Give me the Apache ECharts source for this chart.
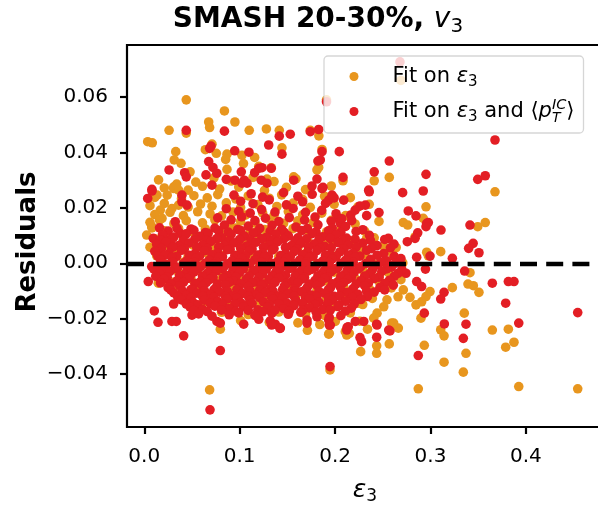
<!DOCTYPE html>
<html>
<head>
<meta charset="utf-8">
<script src="https://cdn.jsdelivr.net/npm/echarts@6/dist/echarts.min.js"></script>
<style>
  html, body { margin: 0; padding: 0; background: #fff; }
  #chart { width: 598px; height: 507px; }
</style>
</head>
<body>
<div id="chart"></div>
<script>
// Axis ticks
const xTickValues = [0, 0.1, 0.2, 0.3, 0.4];
const xTickLabels = ['0.0', '0.1', '0.2', '0.3', '0.4'];
const yTickValues = [-0.04, -0.02, 0, 0.02, 0.04, 0.06];
const yTickLabels = ['\u22120.04', '\u22120.02', '0.00', '0.02', '0.04', '0.06'];

const seriesNames = ['Fit on eps3', 'Fit on eps3 and pT'];

// Residuals of the fit on eps3 only: [eps3, residual]
const fitEpsPoints = [
  [0.044,0.059],[0.084,0.055],[0.095,0.051],[0.0675,0.051],[0.0685,0.049],[0.026,0.048],[0.044,0.047],
  [0.110,0.048],[0.128,0.0485],[0.1415,0.048],[0.174,0.048],[0.183,0.046],[0.0036,0.0439],[0.0084,0.0435],
  [0.033,0.0403],[0.064,0.041],[0.071,0.043],[0.0755,0.0397],[0.0867,0.0394],[0.0853,0.0375],[0.1024,0.039],
  [0.104,0.036],[0.1157,0.0382],[0.120,0.035],[0.0314,0.0373],[0.0385,0.0361],[0.048,0.033],[0.0867,0.0339],
  [0.031,0.0276],[0.034,0.0286],[0.191,0.059],[0.269,0.066],[0.1443,0.0417],[0.1863,0.0411],[0.241,0.0298],
  [0.2568,0.031],[0.181,0.0337],[0.1828,0.0346],[0.2083,0.0298],[0.1566,0.0312],[0.1331,0.0345],[0.1286,0.0304],
  [0.3676,0.0258],[0.2358,0.0213],[0.2953,0.0204],[0.2715,0.0147],[0.2761,0.0138],[0.2924,0.0162],[0.3495,0.0132],
  [0.3574,0.0147],[0.2838,0.0095],[0.3107,0.0042],[0.296,0.004],[0.2977,0.0027],[0.3414,-0.0034],[0.3393,-0.0075],
  [0.3449,-0.0081],[0.3508,-0.0105],[0.3229,-0.0088],[0.2995,-0.0102],[0.2953,-0.012],[0.3354,-0.018],[0.3372,-0.0325],
  [0.3344,-0.0393],[0.3648,-0.0241],[0.3816,-0.0238],[0.3875,-0.0285],[0.3788,-0.0303],[0.3925,-0.0445],[0.4543,-0.0453],
  [0.29,-0.0198],[0.3107,-0.024],[0.3142,-0.0262],[0.2935,-0.0296],[0.3142,-0.0357],[0.2872,-0.0453],[0.2848,-0.015],
  [0.2785,-0.0123],[0.2907,-0.0139],[0.2268,-0.0319],[0.2436,-0.0325],[0.2436,-0.0298],[0.2568,-0.0291],[0.2663,-0.0234],
  [0.2593,-0.0216],[0.1947,-0.0385],[0.1933,-0.0256],[0.2107,-0.0247],[0.2149,-0.0253],[0.2002,-0.021],[0.0685,-0.0457],
  [0.0797,-0.0238],[0.0413,-0.013],[0.0078,0.0132],[0.0025,0.0102],[0.0147,-0.0072],[0.1939,-0.0253],[0.2122,-0.0259],
  [0.0133,0.0246],[0.0168,0.0192],[0.0186,0.0162],[0.0081,0.0128],[0.029,0.0198],[0.036,0.021],[0.0308,0.027],
  [0.036,0.0264],[0.2331,0.009],[0.2593,0.004],[0.2463,-0.0048],[0.2715,-0.0096],[0.2405,-0.0198],[0.244,-0.018],
  [0.2247,-0.0144],[0.2544,-0.0132],[0.2614,-0.0216],
  [0.015,0.0301],[0.054,0.0293],[0.073,0.0308],[0.091,0.0297],[0.114,0.031],[0.136,0.0295],[0.159,0.0305],
  [0.021,0.0272],[0.046,0.0264],[0.061,0.0278],[0.079,0.0268],[0.099,0.0275],[0.126,0.0263],[0.149,0.0274],[0.169,0.0266],[0.196,0.0279],
  [0.011,0.0238],[0.024,0.0246],[0.039,0.0233],[0.052,0.0244],[0.066,0.0236],[0.077,0.0248],[0.096,0.0232],[0.109,0.0243],
  [0.131,0.0235],[0.144,0.0247],[0.166,0.0231],[0.189,0.0242],[0.216,0.0237],
  [0.006,0.0208],[0.021,0.0216],[0.046,0.0203],[0.059,0.0214],[0.071,0.0206],[0.086,0.0218],[0.101,0.0201],[0.119,0.0212],
  [0.139,0.0205],[0.156,0.0217],[0.174,0.0202],[0.199,0.0213],[0.224,0.0204],
  [0.011,0.0176],[0.027,0.0184],[0.041,0.0172],[0.056,0.0186],[0.069,0.0178],[0.081,0.0171],[0.093,0.0185],[0.106,0.0174],
  [0.124,0.0182],[0.136,0.0173],[0.151,0.0187],[0.166,0.0175],[0.186,0.0181],[0.211,0.0172],
  [0.006,0.0148],[0.016,0.0156],[0.031,0.0143],[0.044,0.0154],[0.061,0.0146],[0.074,0.0157],[0.089,0.0141],[0.101,0.0152],
  [0.116,0.0145],[0.131,0.0158],[0.146,0.0144],[0.161,0.0153],[0.177,0.0147],[0.196,0.0155],[0.221,0.0142],[0.246,0.0151],
  [0.021,0.0117],[0.036,0.0126],[0.051,0.0113],[0.064,0.0124],[0.079,0.0116],[0.096,0.0127],[0.111,0.0114],[0.126,0.0122],
  [0.141,0.0111],[0.156,0.0125],[0.171,0.0118],[0.191,0.0113],[0.206,0.0123],[0.231,0.0116],
  [0.011,0.0088],[0.026,0.0095],[0.041,0.0083],[0.061,0.0094],[0.076,0.0086],[0.089,0.0097],[0.104,0.0082],[0.121,0.0091],
  [0.136,0.0085],[0.149,0.0096],[0.171,0.0084],[0.186,0.0093],[0.199,0.0087],[0.216,0.0081],[0.241,0.0092],
  [0.006,0.0058],[0.021,0.0064],[0.036,0.0055],[0.051,0.0066],[0.071,0.0057],[0.086,0.0063],[0.101,0.0054],[0.129,0.0065],
  [0.161,0.0056],[0.191,0.0067],[0.226,0.0053],[0.251,0.0062],[0.264,0.0057],
  [0.013,0.0027],[0.031,0.0034],[0.046,0.0025],[0.066,0.0036],[0.081,0.0028],[0.111,0.0033],[0.141,0.0024],[0.169,0.0035],
  [0.201,0.0026],[0.231,0.0032],[0.261,0.0028],
  [0.021,-0.0003],[0.041,0.0004],[0.061,-0.0006],[0.091,0.0002],[0.121,-0.0004],[0.151,0.0005],[0.181,-0.0002],[0.211,0.0003],
  [0.241,-0.0005],[0.271,0.0001],
  [0.019,-0.0028],[0.036,-0.0034],[0.056,-0.0026],[0.081,-0.0033],[0.111,-0.0027],[0.139,-0.0035],[0.171,-0.0029],[0.199,-0.0032],
  [0.229,-0.0025],[0.256,-0.0034],
  [0.026,-0.0064],[0.049,-0.0056],[0.076,-0.0062],[0.101,-0.0058],[0.129,-0.0065],[0.161,-0.0057],[0.189,-0.0063],[0.221,-0.0055],
  [0.246,-0.0066],[0.269,-0.0059],
  [0.031,-0.0087],[0.059,-0.0095],[0.091,-0.0086],[0.119,-0.0093],[0.151,-0.0088],[0.181,-0.0096],[0.209,-0.0085],[0.236,-0.0092],[0.259,-0.0089],
  [0.046,-0.0118],[0.071,-0.0126],[0.099,-0.0117],[0.131,-0.0123],[0.159,-0.0115],[0.191,-0.0124],[0.214,-0.0119],[0.239,-0.0127],[0.266,-0.0121],
  [0.061,-0.0147],[0.089,-0.0155],[0.121,-0.0146],[0.149,-0.0153],[0.176,-0.0148],[0.201,-0.0156],[0.229,-0.0149],[0.251,-0.0157],
  [0.081,-0.0177],[0.109,-0.0185],[0.141,-0.0176],[0.169,-0.0183],[0.189,-0.0188],[0.216,-0.0179],
  [0.101,-0.0207],[0.131,-0.0213],[0.161,-0.0215],[0.184,-0.0221],[0.226,-0.0209],
  [0.171,-0.0242],[0.234,-0.0238]
];

// Residuals of the fit on eps3 and <pT^IC>: [eps3, residual]
const fitEpsPtPoints = [
  [0.044,0.048],[0.084,0.0477],[0.1415,0.0459],[0.153,0.0466],[0.174,0.0475],[0.1828,0.0483],[0.0685,0.0415],[0.070,0.0423],
  [0.0948,0.0406],[0.1097,0.0401],[0.0675,0.0367],[0.072,0.0346],[0.026,0.0337],[0.0423,0.0327],[0.044,0.0312],[0.0647,0.0319],
  [0.076,0.0325],[0.086,0.0303],[0.095,0.030],[0.1024,0.0289],[0.1048,0.030],[0.1077,0.0289],[0.1017,0.033],[0.1157,0.0327],
  [0.120,0.0343],[0.1226,0.030],[0.008,0.0267],[0.071,0.0282],[0.191,0.0583],[0.268,0.0727],[0.1304,0.0427],[0.1443,0.0394],
  [0.1863,0.0403],[0.2044,0.0403],[0.2568,0.0369],[0.241,0.033],[0.1845,0.0373],[0.182,0.0369],[0.181,0.0304],[0.2083,0.031],
  [0.1566,0.030],[0.1331,0.0343],[0.1286,0.0289],[0.1234,0.0345],[0.1758,0.0279],[0.1873,0.0274],[0.2352,0.0264],[0.3676,0.0445],
  [0.2953,0.0321],[0.3495,0.0303],[0.3574,0.0316],[0.2358,0.0258],[0.2708,0.0255],[0.2924,0.0261],[0.2767,0.0189],[0.2848,0.0171],
  [0.2331,0.0172],[0.2164,0.0174],[0.2174,0.0154],[0.2977,0.0147],[0.3414,0.0138],[0.296,0.0144],[0.2953,0.0132],[0.2866,0.011],
  [0.311,0.012],[0.3447,0.0072],[0.340,0.0054],[0.3508,0.0038],[0.2995,0.0026],[0.2855,0.0022],[0.2757,0.0078],[0.2838,0.009],
  [0.2617,0.0069],[0.2558,0.009],[0.3229,0.0018],[0.3358,-0.0028],[0.3648,-0.0072],[0.3816,-0.0066],[0.3875,-0.0066],[0.3788,-0.0144],
  [0.4543,-0.0178],[0.3142,-0.0105],[0.3107,-0.0129],[0.3372,-0.022],[0.3344,-0.0271],[0.3925,-0.0216],[0.2935,-0.018],[0.3145,-0.0219],
  [0.2872,-0.0333],[0.2278,-0.0283],[0.2261,-0.0268],[0.2436,-0.0267],[0.2436,-0.022],[0.2575,-0.0244],[0.1947,-0.0373],[0.2125,-0.0232],
  [0.1426,-0.0234],[0.1373,-0.022],[0.1321,-0.0208],[0.1706,-0.0216],[0.1706,-0.0205],[0.181,-0.0193],[0.195,-0.0223],[0.1933,-0.0205],
  [0.1339,-0.018],[0.1304,-0.0168],[0.2212,-0.021],[0.23,-0.021],[0.2439,-0.0223],[0.2562,-0.0241],[0.0105,-0.0172],[0.0144,-0.0213],
  [0.029,-0.021],[0.0335,-0.021],[0.0413,-0.0262],[0.0797,-0.0315],[0.0689,-0.0529],[0.0308,-0.0147],[0.05,-0.0187],[0.0762,-0.021],
  [0.0797,-0.0216],[0.1042,-0.022],[0.12,-0.0202],[0.0094,0.009],[0.0165,0.0042],[0.0078,-0.0012],[0.0042,-0.0066],[0.1422,-0.0235],
  [0.1335,-0.0223],[0.1939,-0.0195],[0.1939,-0.0223],[0.2122,-0.0241],[0.2138,-0.0229],[0.0081,0.0261],[0.0036,0.0234],[0.0238,0.0084],
  [0.0273,0.0066],[0.0395,0.0246],[0.0395,0.0222],[0.0448,0.021],[0.0325,0.015],[0.0343,0.0126],[0.0377,0.0108],
  [0.2947,-0.0021],[0.2743,-0.0036],[0.2855,-0.0066],[0.2907,-0.0084],[0.2317,0.021],[0.2038,0.0162],[0.2055,0.0144],
  [0.1933,0.0228],[0.1968,0.0246],[0.1863,0.027],
  [0.094,0.0246],[0.112,0.0251],[0.124,0.0239],[0.146,0.0255],[0.161,0.0242],[0.176,0.0249],[0.199,0.0236],
  [0.101,0.0224],[0.114,0.0215],[0.131,0.0229],[0.149,0.0211],[0.166,0.0222],[0.19,0.0216],[0.209,0.0228],[0.226,0.0207],
  [0.086,0.0197],[0.099,0.0188],[0.111,0.0181],[0.123,0.0194],[0.137,0.0185],[0.156,0.0198],
  [0.169,0.0184],[0.186,0.0191],[0.201,0.0179],[0.221,0.0192],[0.246,0.0183],
  [0.077,0.0164],[0.091,0.0157],[0.102,0.0168],[0.116,0.0154],[0.127,0.0163],
  [0.141,0.0151],[0.152,0.0165],[0.168,0.0156],[0.179,0.0167],[0.196,0.0152],[0.207,0.0161],
  [0.016,0.0128],[0.049,0.0124],[0.074,0.0127],[0.084,0.0138],[0.098,0.0122],[0.109,0.0134],[0.121,0.0126],
  [0.134,0.0137],[0.144,0.0123],[0.159,0.0131],[0.171,0.0125],[0.182,0.0139],[0.197,0.0127],[0.211,0.0133],[0.229,0.0121],
  [0.025,0.0116],[0.052,0.0119],[0.064,0.0111],[0.078,0.0117],[0.088,0.0113],[0.101,0.0118],[0.118,0.0112],
  [0.132,0.0116],[0.147,0.0111],[0.165,0.0118],[0.18,0.0113],[0.193,0.0117],[0.206,0.0112],[0.222,0.0115],
  [0.019,0.0103],[0.031,0.0095],[0.044,0.0106],[0.058,0.0097],[0.067,0.0108],[0.081,0.0093],[0.091,0.0104],[0.105,0.0098],[0.114,0.0109],
  [0.128,0.0094],[0.138,0.0105],[0.151,0.0099],[0.161,0.0092],[0.176,0.0107],[0.187,0.0096],[0.201,0.0103],[0.212,0.0091],[0.236,0.0101],
  [0.017,0.0084],[0.029,0.0088],[0.041,0.0082],[0.053,0.0087],[0.065,0.0083],[0.076,0.0089],[0.089,0.0081],[0.1,0.0086],[0.112,0.0082],
  [0.123,0.0088],[0.135,0.0083],[0.146,0.0087],[0.158,0.0081],[0.17,0.0088],[0.183,0.0084],[0.195,0.0089],[0.208,0.0082],[0.221,0.0087],
  [0.237,0.0083],[0.252,0.0086],
  [0.013,0.0068],[0.023,0.0077],[0.036,0.0064],[0.047,0.0073],[0.061,0.0066],[0.07,0.0079],[0.084,0.0065],[0.094,0.0074],[0.107,0.0062],
  [0.117,0.0076],[0.131,0.0067],[0.14,0.0078],[0.154,0.0063],[0.164,0.0072],[0.178,0.0069],[0.189,0.0061],[0.203,0.0075],[0.214,0.0066],
  [0.229,0.0073],[0.244,0.0064],
  [0.018,0.0054],[0.03,0.0058],[0.042,0.0052],[0.055,0.0057],[0.066,0.0053],[0.078,0.0059],[0.09,0.0051],[0.101,0.0056],[0.113,0.0052],
  [0.125,0.0058],[0.136,0.0053],[0.148,0.0057],[0.16,0.0051],[0.172,0.0058],[0.184,0.0054],[0.196,0.0057],[0.209,0.0052],[0.222,0.0058],
  [0.238,0.0053],[0.258,0.0056],
  [0.011,0.0043],[0.026,0.0036],[0.039,0.0047],[0.053,0.0034],[0.063,0.0045],[0.077,0.0038],[0.087,0.0049],[0.101,0.0035],[0.11,0.0044],
  [0.124,0.0037],[0.134,0.0048],[0.148,0.0033],[0.157,0.0042],[0.171,0.0039],[0.181,0.0046],[0.195,0.0032],[0.205,0.0041],[0.219,0.0037],
  [0.233,0.0047],[0.251,0.0035],
  [0.014,0.0027],[0.022,0.003],[0.034,0.0025],[0.047,0.0029],[0.058,0.0026],[0.071,0.0031],[0.082,0.0024],[0.095,0.0029],[0.106,0.0026],
  [0.119,0.003],[0.13,0.0025],[0.143,0.0028],[0.153,0.0024],[0.166,0.0031],[0.177,0.0026],[0.19,0.0029],[0.201,0.0025],[0.214,0.003],
  [0.226,0.0026],[0.244,0.0029],[0.262,0.0025],
  [0.017,0.0012],[0.029,0.0021],[0.044,0.0008],[0.054,0.0018],[0.068,0.0011],[0.078,0.0022],[0.092,0.0009],[0.102,0.0019],[0.116,0.0013],
  [0.126,0.0023],[0.14,0.0007],[0.149,0.0017],[0.163,0.0012],[0.173,0.0021],[0.187,0.0008],[0.197,0.0016],[0.211,0.0011],[0.221,0.0022],
  [0.237,0.0014],[0.254,0.0009],[0.269,0.0017],
  [0.019,0.0001],[0.03,0.0004],[0.041,-0.0001],[0.053,0.0003],[0.064,0.0],[0.076,0.0004],[0.087,-0.0002],[0.099,0.0002],[0.111,0.0],
  [0.123,0.0004],[0.135,-0.0001],[0.146,0.0003],[0.158,0.0],[0.17,0.0005],[0.182,-0.0001],[0.194,0.0003],[0.206,0.0],[0.219,0.0004],
  [0.232,-0.0001],[0.248,0.0003],[0.263,0.0],
  [0.013,-0.0013],[0.023,-0.0004],[0.035,-0.0016],[0.049,-0.0007],[0.059,-0.0012],[0.073,-0.0003],[0.083,-0.0015],[0.097,-0.0009],
  [0.107,-0.0002],[0.121,-0.0014],[0.131,-0.0006],[0.145,-0.0011],[0.155,-0.0017],[0.169,-0.0005],[0.179,-0.0013],[0.193,-0.0008],
  [0.203,-0.0016],[0.217,-0.0004],[0.227,-0.0012],[0.243,-0.0007],[0.259,-0.0014],
  [0.01,-0.0021],[0.02,-0.0024],[0.032,-0.0019],[0.045,-0.0023],[0.056,-0.002],[0.069,-0.0025],[0.081,-0.0019],[0.093,-0.0024],
  [0.104,-0.002],[0.117,-0.0025],[0.128,-0.0021],[0.141,-0.0023],[0.152,-0.0019],[0.165,-0.0024],[0.176,-0.0021],[0.189,-0.0025],
  [0.2,-0.002],[0.213,-0.0023],[0.225,-0.0019],[0.239,-0.0024],[0.254,-0.002],[0.27,-0.0023],
  [0.016,-0.0038],[0.027,-0.0029],[0.042,-0.0041],[0.052,-0.0032],[0.066,-0.0036],[0.076,-0.0027],[0.09,-0.0042],[0.1,-0.0033],
  [0.114,-0.0028],[0.124,-0.0039],[0.138,-0.0031],[0.148,-0.0043],[0.162,-0.0034],[0.172,-0.0026],[0.186,-0.0037],[0.196,-0.003],
  [0.21,-0.0041],[0.22,-0.0033],[0.236,-0.0038],[0.249,-0.0029],[0.266,-0.0036],
  [0.012,-0.0047],[0.024,-0.005],[0.037,-0.0045],[0.048,-0.0049],[0.061,-0.0046],[0.072,-0.0051],[0.086,-0.0045],[0.096,-0.005],
  [0.11,-0.0046],[0.12,-0.0051],[0.134,-0.0045],[0.144,-0.0049],[0.158,-0.0046],[0.168,-0.0051],[0.182,-0.0045],[0.192,-0.005],
  [0.206,-0.0047],[0.217,-0.0051],[0.231,-0.0046],[0.246,-0.005],[0.262,-0.0047],
  [0.021,-0.0057],[0.034,-0.0064],[0.045,-0.0055],[0.059,-0.0066],[0.069,-0.0058],[0.083,-0.0052],[0.093,-0.0063],[0.107,-0.0056],
  [0.117,-0.0067],[0.131,-0.0059],[0.141,-0.0053],[0.155,-0.0065],[0.165,-0.0057],[0.179,-0.0062],[0.189,-0.0054],[0.203,-0.0066],
  [0.213,-0.0058],[0.227,-0.0063],[0.241,-0.0055],[0.257,-0.0061],
  [0.017,-0.0071],[0.028,-0.0074],[0.041,-0.0069],[0.053,-0.0073],[0.065,-0.007],[0.077,-0.0075],[0.089,-0.0069],[0.101,-0.0074],
  [0.113,-0.007],[0.125,-0.0075],[0.137,-0.0069],[0.149,-0.0073],[0.161,-0.007],[0.173,-0.0075],[0.185,-0.0069],[0.197,-0.0074],
  [0.209,-0.007],[0.222,-0.0075],[0.235,-0.0071],[0.252,-0.0073],
  [0.025,-0.0088],[0.037,-0.0081],[0.051,-0.0092],[0.061,-0.0083],[0.075,-0.0089],[0.085,-0.0078],[0.099,-0.0091],[0.109,-0.0084],
  [0.123,-0.0079],[0.133,-0.009],[0.147,-0.0082],[0.157,-0.0093],[0.171,-0.0086],[0.181,-0.008],[0.195,-0.0089],[0.205,-0.0083],
  [0.219,-0.0091],[0.231,-0.0081],[0.247,-0.0087],[0.261,-0.0079],
  [0.028,-0.0097],[0.04,-0.01],[0.049,-0.0095],[0.063,-0.0099],[0.073,-0.0096],[0.087,-0.0101],[0.097,-0.0095],[0.111,-0.01],
  [0.121,-0.0096],[0.135,-0.0101],[0.145,-0.0095],[0.159,-0.0099],[0.169,-0.0096],[0.183,-0.0101],[0.193,-0.0095],[0.207,-0.01],
  [0.218,-0.0097],[0.233,-0.01],[0.252,-0.0096],
  [0.031,-0.0107],[0.044,-0.0116],[0.055,-0.0108],[0.069,-0.0113],[0.079,-0.0104],[0.093,-0.0117],[0.103,-0.0109],[0.117,-0.0114],
  [0.127,-0.0105],[0.141,-0.0118],[0.151,-0.011],[0.165,-0.0103],[0.175,-0.0115],[0.189,-0.0108],[0.199,-0.0119],[0.213,-0.0106],
  [0.224,-0.0112],[0.241,-0.0104],
  [0.035,-0.0121],[0.049,-0.0124],[0.061,-0.0119],[0.073,-0.0123],[0.085,-0.012],[0.097,-0.0125],[0.109,-0.0119],[0.121,-0.0124],
  [0.133,-0.012],[0.145,-0.0125],[0.157,-0.0119],[0.169,-0.0123],[0.181,-0.012],[0.193,-0.0125],[0.205,-0.0119],[0.218,-0.0123],[0.234,-0.012],
  [0.039,-0.0132],[0.051,-0.0141],[0.063,-0.0133],[0.077,-0.0138],[0.087,-0.0129],[0.101,-0.0142],[0.111,-0.0134],[0.125,-0.0139],
  [0.135,-0.013],[0.149,-0.0143],[0.159,-0.0135],[0.173,-0.0128],[0.183,-0.014],[0.197,-0.0133],[0.211,-0.0137],[0.227,-0.0131],
  [0.044,-0.0147],[0.056,-0.015],[0.069,-0.0145],[0.082,-0.0149],[0.095,-0.0146],[0.107,-0.0151],[0.113,-0.0145],[0.131,-0.015],
  [0.141,-0.0146],[0.154,-0.0151],[0.166,-0.0145],[0.179,-0.0149],[0.192,-0.0146],[0.204,-0.0151],[0.22,-0.0147],
  [0.048,-0.0158],[0.061,-0.0166],[0.074,-0.0155],[0.089,-0.0163],[0.104,-0.0157],[0.119,-0.0168],[0.129,-0.0159],[0.146,-0.0164],
  [0.157,-0.0153],[0.173,-0.0161],[0.187,-0.0167],[0.203,-0.0156],[0.217,-0.0162],
  [0.052,-0.0171],[0.066,-0.0174],[0.081,-0.0169],[0.096,-0.0173],[0.109,-0.017],[0.124,-0.0175],[0.137,-0.0169],[0.152,-0.0173],
  [0.166,-0.017],[0.18,-0.0175],[0.195,-0.0169],[0.211,-0.0172],
  [0.057,-0.0183],[0.071,-0.0191],[0.089,-0.0186],[0.099,-0.0179],[0.116,-0.0188],[0.151,-0.0184],[0.164,-0.0177],[0.206,-0.0189]
];

const FONT = 'DejaVu Sans';
const ORANGE = '#E8961E';
const RED = '#E31E24';

function tickLabel(values, labels) {
  return function (v) {
    for (let i = 0; i < values.length; i++) {
      if (Math.abs(values[i] - v) < 1e-9) return labels[i];
    }
    return '';
  };
}

const legendText = {};
legendText[seriesNames[0]] = 'Fit on {e|\u03b5}{s|3}';
legendText[seriesNames[1]] = 'Fit on {e|\u03b5}{s|3} and \u27e8{e|p}{lo|T}{hi|IC}\u27e9';

const chart = echarts.init(document.getElementById('chart'), null, { renderer: 'canvas' });

chart.setOption({
  animation: false,
  backgroundColor: '#fff',
  title: {
    text: '{b|SMASH 20-30%, }{v|v}{s|3}',
    left: 318,
    top: 3,
    padding: 0,
    textAlign: 'center',
    textStyle: {
      fontFamily: FONT,
      fontSize: 28,
      lineHeight: 34,
      color: '#000',
      rich: {
        b: { fontFamily: FONT, fontSize: 28, fontWeight: 'bold', color: '#000', lineHeight: 34 },
        v: { fontFamily: FONT, fontSize: 28, fontStyle: 'italic', fontWeight: 'normal', color: '#000', lineHeight: 34 },
        s: { fontFamily: FONT, fontSize: 20, fontWeight: 'normal', color: '#000', verticalAlign: 'bottom', lineHeight: 16 }
      }
    }
  },
  legend: {
    orient: 'vertical',
    left: 324,
    top: 56,
    itemWidth: 9,
    itemHeight: 9,
    itemGap: 8,
    padding: [7, 9, 8, 25.5],
    backgroundColor: 'rgba(255,255,255,0.8)',
    borderColor: 'rgba(204,204,204,0.8)',
    borderWidth: 1.3,
    borderRadius: 4,
    selectedMode: false,
    data: seriesNames.map(n => ({ name: n, icon: 'circle' })),
    formatter: name => legendText[name],
    textStyle: {
      fontFamily: FONT,
      fontSize: 21,
      lineHeight: 27,
      color: '#000',
      padding: [0, 0, 0, 29],
      rich: {
        e: { fontFamily: FONT, fontSize: 21, fontStyle: 'italic', color: '#000' },
        s: { fontFamily: FONT, fontSize: 15, color: '#000', verticalAlign: 'bottom', lineHeight: 17 },
        lo: { fontFamily: FONT, fontSize: 14, fontStyle: 'italic', color: '#000', verticalAlign: 'bottom', lineHeight: 12, width: 0 },
        hi: { fontFamily: FONT, fontSize: 14.5, fontStyle: 'italic', color: '#000', verticalAlign: 'top', lineHeight: 14 }
      }
    }
  },
  grid: {
    left: 127,
    top: 45,
    right: -5,
    bottom: 80,
    outerBoundsMode: 'none',
    containLabel: false,
    show: true,
    borderColor: '#000',
    borderWidth: 2.2,
    backgroundColor: 'transparent'
  },
  xAxis: {
    type: 'value',
    min: -0.0181,
    max: 0.4808,
    name: '{e|\u03b5}{s|3}',
    nameLocation: 'middle',
    nameGap: 48,
    nameMoveOverlap: false,
    nameTextStyle: {
      fontFamily: FONT,
      fontSize: 25,
      color: '#000',
      lineHeight: 30,
      rich: {
        e: { fontFamily: FONT, fontSize: 25, fontStyle: 'italic', color: '#000', lineHeight: 30 },
        s: { fontFamily: FONT, fontSize: 17, color: '#000', verticalAlign: 'bottom', lineHeight: 18 }
      }
    },
    axisLine: { show: false, onZero: false },
    splitLine: { show: false },
    axisTick: {
      show: true,
      customValues: xTickValues,
      length: 7,
      lineStyle: { color: '#000', width: 2.2 }
    },
    axisLabel: {
      customValues: xTickValues,
      formatter: tickLabel(xTickValues, xTickLabels),
      fontFamily: FONT,
      fontSize: 20,
      color: '#000',
      margin: 20
    }
  },
  yAxis: {
    type: 'value',
    min: -0.0591,
    max: 0.0788,
    name: 'Residuals',
    nameLocation: 'middle',
    nameGap: 86,
    nameMoveOverlap: false,
    nameTextStyle: {
      fontFamily: FONT, fontSize: 26, fontWeight: 'bold', color: '#000',
      padding: [0, 12, 0, 0]
    },
    axisLine: { show: false, onZero: false },
    splitLine: { show: false },
    axisTick: {
      show: true,
      customValues: yTickValues,
      length: 7,
      lineStyle: { color: '#000', width: 2.2 }
    },
    axisLabel: {
      customValues: yTickValues,
      formatter: tickLabel(yTickValues, yTickLabels),
      fontFamily: FONT,
      fontSize: 20,
      color: '#000',
      margin: 19
    }
  },
  series: [
    {
      name: seriesNames[0],
      type: 'scatter',
      symbol: 'circle',
      symbolSize: 9.6,
      symbolKeepAspect: true,
      itemStyle: { color: ORANGE, opacity: 1 },
      emphasis: { disabled: true },
      data: fitEpsPoints,
      z: 2
    },
    {
      name: seriesNames[1],
      type: 'scatter',
      symbol: 'circle',
      symbolSize: 9.6,
      symbolKeepAspect: true,
      itemStyle: { color: RED, opacity: 1 },
      emphasis: { disabled: true },
      data: fitEpsPtPoints,
      z: 3,
      markLine: {
        silent: true,
        symbol: ['none', 'none'],
        label: { show: false },
        lineStyle: { color: '#000', width: 4.3, type: [17, 9.2], opacity: 1 },
        data: [{ yAxis: 0 }]
      }
    }
  ]
});
</script>
</body>
</html>
